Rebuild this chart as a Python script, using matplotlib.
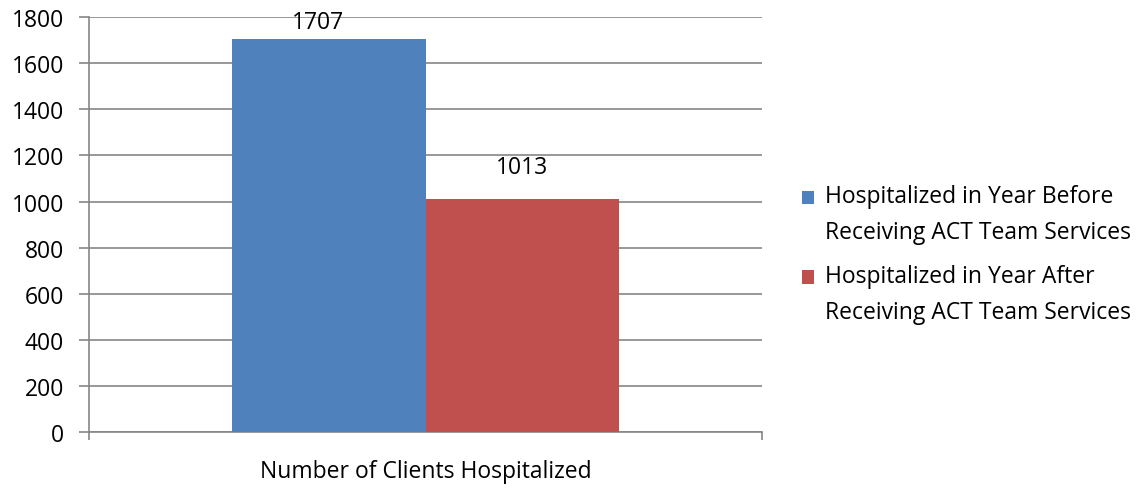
import matplotlib.pyplot as plt
from matplotlib.patches import Rectangle
from matplotlib.container import BarContainer
from matplotlib.legend_handler import HandlerPatch, update_from_first_child

category = "Number of Clients Hospitalized"
series_names = [
    "Hospitalized in Year Before\nReceiving ACT Team Services",
    "Hospitalized in Year After\nReceiving ACT Team Services",
]
values = [1707, 1013]
colors = ["#4F81BD", "#C0504D"]

plt.rcParams['font.family'] = ['Open Sans', 'DejaVu Sans']
FS = 16.5

fig = plt.figure(figsize=(11.41, 4.89), dpi=100)
ax = fig.add_axes([0.078, 0.1145, 0.59, 0.8485])

width = 0.287
offsets = [-width / 2, width / 2]
label_offsets = [(-8, 3), (0, 14)]
for off, v, c, name, lo in zip(offsets, values, colors, series_names, label_offsets):
    ax.bar(off, v, width=width, color=c, label=name, zorder=3)
    ax.annotate(str(v), xy=(off, v), xytext=lo, textcoords='offset points',
                ha='center', va='bottom', fontsize=FS, zorder=4)

ax.set_xlim(-0.5, 0.5)
ax.set_ylim(0, 1800)
ax.set_yticks(range(0, 1801, 200))
ax.yaxis.grid(True, color="#868686", linewidth=1.2, zorder=0)
ax.set_xticks([-0.5, 0.5])
ax.set_xticklabels([])
ax.tick_params(axis='x', length=6, width=1.2, color="#868686")
ax.tick_params(axis='y', length=7, width=1.2, color="#868686", labelsize=FS, pad=11)
for s in ['top', 'right']:
    ax.spines[s].set_visible(False)
for s in ['left', 'bottom']:
    ax.spines[s].set_color("#868686")
    ax.spines[s].set_linewidth(1.2)
ax.text(0, -0.095, category, transform=ax.get_xaxis_transform(),
        ha='center', va='center', fontsize=FS)


# legend square sits next to the first line of each two-line label
def top_square(legend, orig_handle, xdescent, ydescent, width, height, fontsize):
    return Rectangle((-xdescent, -ydescent + 12.6), width, height)


leg = ax.legend(loc='center left', bbox_to_anchor=(1.028, 0.429), frameon=False,
                fontsize=FS, handlelength=0.55, handleheight=0.55, handletextpad=0.45,
                labelspacing=0.85,
                handler_map={BarContainer: HandlerPatch(patch_func=top_square,
                                                        update_func=update_from_first_child)})
for t in leg.get_texts():
    t.set_linespacing(1.68)

fig.savefig("out.png", dpi=100)
